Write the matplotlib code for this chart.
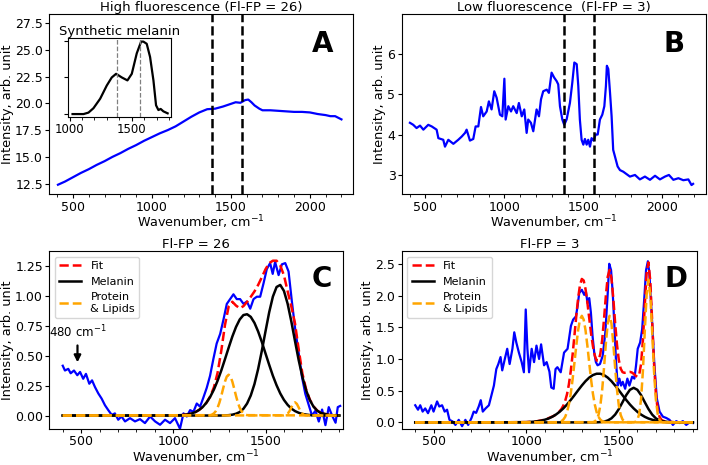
import numpy as np
import matplotlib.pyplot as plt
from matplotlib.ticker import MultipleLocator

# melanin band positions (dashed lines)
bands = [1380, 1570]

# A: high fluorescence raw spectrum
a_wn = [405, 450, 500, 550, 600, 650, 700, 750, 800, 850, 900, 950, 1000, 1050, 1100,
        1150, 1200, 1250, 1300, 1350, 1400, 1450, 1500, 1530, 1560, 1590, 1610, 1630,
        1650, 1680, 1700, 1750, 1800, 1850, 1900, 1950, 2000, 2050, 2100, 2130, 2160,
        2180, 2200]
a_int = [12.4, 12.7, 13.1, 13.5, 13.85, 14.25, 14.6, 15.0, 15.35, 15.75, 16.1, 16.5,
         16.85, 17.2, 17.5, 17.85, 18.3, 18.75, 19.15, 19.45, 19.5, 19.7, 19.95, 20.1,
         20.05, 20.3, 20.35, 20.1, 19.8, 19.5, 19.35, 19.35, 19.3, 19.25, 19.2, 19.2,
         19.15, 19.0, 18.9, 18.8, 18.8, 18.65, 18.5]

# inset: synthetic melanin
syn_wn = [1024, 1112, 1152, 1192, 1246, 1299, 1339, 1374, 1420, 1465, 1500, 1540,
          1575, 1593, 1620, 1647, 1674, 1695, 1714, 1732, 1754, 1788]
syn_int = [0.0, 0.0, 0.02, 0.08, 0.21, 0.39, 0.50, 0.55, 0.50, 0.46, 0.55, 0.83,
           0.99, 0.99, 0.96, 0.78, 0.46, 0.12, 0.055, 0.07, 0.037, 0.01]

# B: low fluorescence raw spectrum
b_wn = [402, 423, 444, 466, 487, 518, 540, 571, 582, 613, 624, 645, 677, 708, 730,
        751, 761, 782, 803, 818, 835, 852, 866, 888, 902, 919, 936, 951, 972, 987,
        1000, 1008, 1025, 1042, 1056, 1078, 1092, 1110, 1126, 1141, 1151, 1168, 1183,
        1204, 1219, 1232, 1246, 1268, 1282, 1299, 1315, 1331, 1341, 1352, 1367, 1379,
        1394, 1415, 1430, 1443, 1458, 1468, 1478, 1489, 1500, 1510, 1521, 1531, 1542,
        1552, 1565, 1578, 1591, 1605, 1620, 1633, 1643, 1649, 1658, 1669, 1679, 1689,
        1700, 1717, 1732, 1753, 1774, 1795, 1827, 1858, 1890, 1922, 1954, 1985, 2017,
        2042, 2070, 2102, 2133, 2165, 2185, 2195]
b_int = [4.29, 4.24, 4.16, 4.22, 4.12, 4.24, 4.2, 4.12, 3.91, 3.87, 3.7, 3.87, 3.77,
         3.87, 3.95, 4.04, 4.12, 3.85, 3.89, 4.2, 4.2, 4.68, 4.45, 4.57, 4.82, 4.62,
         5.07, 4.91, 4.49, 4.45, 5.38, 4.37, 4.70, 4.57, 4.70, 4.53, 4.78, 4.45, 4.62,
         4.04, 4.37, 4.29, 4.08, 4.62, 4.45, 4.87, 5.07, 5.11, 5.03, 5.53, 5.41, 5.32,
         5.24, 4.70, 4.37, 4.24, 4.37, 4.78, 5.28, 5.78, 5.74, 5.2, 4.37, 3.87, 3.75,
         3.89, 3.75, 3.87, 3.70, 3.91, 3.85, 4.0, 4.0, 4.37, 4.49, 4.70, 5.2, 5.7,
         5.62, 5.03, 4.45, 3.62, 3.46, 3.21, 3.12, 3.08, 3.02, 2.96, 3.0, 2.89, 2.96,
         2.88, 2.98, 2.89, 2.96, 3.0, 2.88, 2.92, 2.87, 2.89, 2.75, 2.78]

# C: baseline-corrected spectrum, Fl-FP = 26
c_wn = [400, 412, 430, 443, 461, 479, 494, 511, 526, 544, 559, 575, 593, 611, 629,
        647, 666, 683, 701, 719, 738, 765, 792, 819, 846, 874, 901, 928, 955, 982,
        1009, 1036, 1055, 1073, 1091, 1109, 1127, 1145, 1163, 1181, 1199, 1217, 1235,
        1254, 1272, 1290, 1308, 1326, 1344, 1362, 1381, 1399, 1417, 1435, 1453, 1471,
        1489, 1507, 1525, 1539, 1552, 1571, 1589, 1607, 1625, 1643, 1661, 1680, 1698,
        1716, 1734, 1752, 1771, 1789, 1807, 1825, 1843, 1861, 1880, 1892, 1905]
c_int = [0.415, 0.375, 0.389, 0.352, 0.375, 0.336, 0.363, 0.306, 0.347, 0.265, 0.293,
         0.237, 0.184, 0.141, 0.086, 0.045, 0.005, 0.018, -0.035, -0.008, -0.049,
         -0.022, -0.049, -0.03, -0.063, -0.008, -0.049, -0.077, -0.035, -0.063, -0.022,
         -0.11, 0.018, -0.008, 0.045, 0.031, 0.10, 0.074, 0.15, 0.23, 0.33, 0.47, 0.60,
         0.68, 0.80, 0.93, 0.97, 1.01, 0.97, 0.97, 0.93, 0.95, 0.89, 0.97, 0.99, 0.99,
         1.10, 1.22, 1.27, 1.18, 1.28, 1.17, 1.26, 1.27, 1.20, 0.95, 0.72, 0.52, 0.32,
         0.18, 0.09, 0.0, 0.04, -0.05, 0.05, -0.08, 0.07, 0.0, -0.06, 0.07, 0.08]

# D: baseline-corrected spectrum, Fl-FP = 3
d_wn = [400, 415, 427, 440, 454, 469, 487, 499, 518, 530, 545, 559, 572, 585, 602,
        617, 635, 653, 671, 686, 704, 716, 729, 743, 754, 765, 780, 798, 812, 825,
        838, 849, 861, 870, 884, 897, 910, 925, 935, 946, 960, 975, 987, 997, 1006,
        1015, 1029, 1042, 1055, 1069, 1080, 1096, 1110, 1125, 1135, 1148, 1158, 1168,
        1186, 1204, 1223, 1241, 1253, 1268, 1277, 1286, 1300, 1313, 1322, 1331, 1340,
        1349, 1358, 1367, 1376, 1385, 1398, 1413, 1427, 1440, 1448, 1458, 1467, 1476,
        1485, 1494, 1503, 1512, 1521, 1534, 1546, 1557, 1572, 1584, 1593, 1602, 1615,
        1626, 1638, 1647, 1657, 1665, 1680, 1692, 1705, 1720, 1738, 1756, 1774, 1792,
        1810, 1828, 1846, 1864, 1882, 1900]
d_int = [0.27, 0.20, 0.27, 0.17, 0.22, 0.145, 0.27, 0.17, 0.33, 0.25, 0.27, 0.17, 0.20,
         0.04, 0.015, -0.04, 0.04, -0.06, 0.04, -0.04, 0.07, 0.17, 0.15, 0.25, 0.35,
         0.17, 0.22, 0.27, 0.43, 0.58, 0.84, 0.92, 1.03, 0.82, 1.0, 1.16, 0.92, 1.16,
         1.42, 1.26, 1.10, 0.95, 0.79, 1.78, 1.16, 0.79, 1.16, 0.95, 1.21, 1.0, 1.23,
         0.90, 0.95, 0.80, 0.55, 0.53, 0.84, 0.87, 0.79, 1.10, 1.16, 1.52, 1.62, 1.67,
         1.83, 2.04, 2.09, 2.01, 2.06, 1.88, 1.96, 1.73, 1.36, 1.10, 0.95, 0.90, 0.92,
         1.05, 1.42, 2.04, 2.50, 2.40, 2.04, 1.52, 0.95, 0.58, 0.69, 0.58, 0.64, 0.53,
         0.69, 0.58, 0.72, 0.69, 0.90, 1.16, 1.26, 1.47, 1.98, 2.40, 2.54, 2.35, 1.57,
         0.90, 0.38, 0.17, 0.09, 0.07, 0.04, -0.04, 0.02, -0.01, 0.02, -0.04, 0.0, -0.01]

# fitted components
fit_wn = [400, 600, 800, 1000, 1020, 1040, 1060, 1080, 1100, 1120, 1140, 1160, 1180,
          1200, 1220, 1240, 1260, 1280, 1300, 1320, 1340, 1360, 1380, 1400, 1420, 1440,
          1460, 1480, 1500, 1520, 1540, 1560, 1580, 1600, 1620, 1640, 1660, 1680, 1700,
          1720, 1740, 1760, 1780, 1800, 1850, 1900]

c_mel1 = [0, 0, 0, 0.001, 0.002, 0.003, 0.006, 0.010, 0.018, 0.029, 0.047, 0.072, 0.108,
          0.156, 0.216, 0.290, 0.375, 0.469, 0.565, 0.658, 0.738, 0.800, 0.837, 0.844,
          0.822, 0.772, 0.700, 0.613, 0.517, 0.422, 0.331, 0.252, 0.184, 0.130, 0.089,
          0.058, 0.037, 0.023, 0.013, 0.008, 0.004, 0.002, 0.001, 0, 0, 0]
c_mel2 = [0, 0, 0, 0, 0, 0, 0, 0, 0, 0, 0, 0, 0, 0, 0, 0, 0, 0.001, 0.003, 0.007, 0.015,
          0.029, 0.056, 0.100, 0.167, 0.262, 0.388, 0.539, 0.702, 0.861, 0.991, 1.071,
          1.088, 1.038, 0.931, 0.784, 0.620, 0.461, 0.322, 0.211, 0.130, 0.075, 0.041,
          0.021, 0.003, 0]
c_fit = [0, 0, 0, 0.001, 0.002, 0.003, 0.006, 0.010, 0.018, 0.029, 0.047, 0.072, 0.108,
         0.159, 0.235, 0.356, 0.539, 0.754, 0.908, 0.948, 0.916, 0.894, 0.911, 0.947,
         0.989, 1.034, 1.088, 1.152, 1.219, 1.27, 1.29, 1.29, 1.25, 1.168, 1.035, 0.909,
         0.767, 0.551, 0.350, 0.220, 0.134, 0.077, 0.042, 0.021, 0.003, 0]
c_p1_wn = [400, 1200, 1210, 1220, 1230, 1240, 1250, 1260, 1270, 1280, 1290, 1300, 1310,
           1320, 1330, 1340, 1350, 1360, 1370, 1380, 1390, 1400, 1900]
c_p1 = [0, 0.003, 0.008, 0.018, 0.036, 0.065, 0.108, 0.163, 0.225, 0.283, 0.325, 0.34,
        0.325, 0.283, 0.225, 0.163, 0.108, 0.065, 0.036, 0.018, 0.008, 0.003, 0]
c_p2_wn = [400, 1600, 1610, 1620, 1630, 1640, 1650, 1660, 1670, 1680, 1690, 1700, 1710,
           1720, 1900]
c_p2 = [0, 0.001, 0.005, 0.015, 0.036, 0.067, 0.097, 0.11, 0.097, 0.067, 0.036, 0.015,
        0.005, 0.001, 0]

d_mel1 = [0, 0, 0, 0.004, 0.007, 0.011, 0.018, 0.027, 0.042, 0.061, 0.088, 0.123, 0.167,
          0.220, 0.282, 0.353, 0.428, 0.506, 0.581, 0.650, 0.706, 0.746, 0.767, 0.767,
          0.746, 0.706, 0.650, 0.581, 0.506, 0.428, 0.353, 0.282, 0.220, 0.167, 0.123,
          0.088, 0.061, 0.042, 0.027, 0.018, 0.011, 0.007, 0.004, 0.002, 0, 0]
d_mel2 = [0, 0, 0, 0, 0, 0, 0, 0, 0, 0, 0, 0, 0, 0, 0, 0, 0, 0, 0, 0, 0, 0, 0.001, 0.004,
          0.012, 0.030, 0.064, 0.123, 0.211, 0.319, 0.430, 0.514, 0.545, 0.514, 0.430,
          0.319, 0.211, 0.123, 0.064, 0.030, 0.012, 0.004, 0.001, 0, 0, 0]
d_p1_wn = [400, 1160, 1170, 1180, 1190, 1200, 1210, 1220, 1230, 1240, 1250, 1260, 1270,
           1280, 1290, 1300, 1310, 1320, 1330, 1340, 1350, 1360, 1370, 1380, 1390, 1400,
           1410, 1420, 1430, 1440, 1900]
d_p1 = [0, 0.001, 0.004, 0.009, 0.020, 0.044, 0.087, 0.162, 0.281, 0.451, 0.674, 0.937,
        1.209, 1.452, 1.620, 1.68, 1.620, 1.452, 1.209, 0.937, 0.674, 0.451, 0.281,
        0.162, 0.087, 0.044, 0.020, 0.009, 0.004, 0.001, 0]
d_p2_wn = [400, 1360, 1370, 1380, 1390, 1400, 1410, 1420, 1430, 1440, 1450, 1460, 1470,
           1480, 1490, 1500, 1510, 1520, 1530, 1540, 1900]
d_p2 = [0, 0.004, 0.015, 0.045, 0.117, 0.264, 0.515, 0.863, 1.249, 1.560, 1.68, 1.560,
        1.249, 0.863, 0.515, 0.264, 0.117, 0.045, 0.015, 0.004, 0]
d_p3_wn = [400, 1580, 1590, 1600, 1610, 1620, 1630, 1640, 1650, 1660, 1670, 1680, 1690,
           1700, 1710, 1720, 1730, 1740, 1900]
d_p3 = [0, 0.001, 0.008, 0.038, 0.132, 0.366, 0.811, 1.430, 2.009, 2.25, 2.009, 1.430,
        0.811, 0.366, 0.132, 0.038, 0.008, 0.001, 0]
d_fit_wn = [400, 800, 1000, 1050, 1100, 1150, 1160, 1170, 1180, 1190, 1200, 1210, 1220,
            1230, 1240, 1250, 1260, 1270, 1280, 1290, 1300, 1310, 1320, 1330, 1340, 1350,
            1360, 1370, 1380, 1390, 1400, 1410, 1420, 1430, 1440, 1450, 1460, 1470, 1480,
            1490, 1500, 1510, 1520, 1530, 1540, 1550, 1560, 1570, 1580, 1590, 1600, 1610,
            1620, 1630, 1640, 1650, 1660, 1670, 1680, 1690, 1700, 1710, 1720, 1730, 1740,
            1750, 1800, 1850, 1900]
d_fit = [0, 0, 0.004, 0.014, 0.042, 0.104, 0.124, 0.147, 0.176, 0.212, 0.264, 0.337,
         0.444, 0.598, 0.804, 1.064, 1.365, 1.676, 1.958, 2.164, 2.261, 2.237, 2.102,
         1.889, 1.643, 1.402, 1.201, 1.055, 0.975, 0.977, 1.079, 1.301, 1.630, 2.000,
         2.297, 2.404, 2.274, 1.956, 1.567, 1.222, 0.981, 0.847, 0.792, 0.781, 0.787,
         0.794, 0.796, 0.787, 0.766, 0.737, 0.719, 0.752, 0.919, 1.291, 1.837, 2.346,
         2.522, 2.223, 1.595, 0.935, 0.457, 0.198, 0.086, 0.041, 0.024, 0.016, 0.002, 0, 0]

plt.rcParams['font.size'] = 9

fig = plt.figure(figsize=(7.08, 4.65), dpi=100)
axA = fig.add_axes([0.0696, 0.582, 0.4294, 0.387])
axB = fig.add_axes([0.5674, 0.582, 0.4294, 0.387])
axC = fig.add_axes([0.0696, 0.078, 0.4153, 0.382])
axD = fig.add_axes([0.5674, 0.078, 0.4170, 0.382])

xlab = 'Wavenumber, cm$^{-1}$'
ylab = 'Intensity, arb. unit'

# --- A ---
axA.plot(a_wn, a_int, color='b', lw=1.6)
for b in bands:
    axA.axvline(b, color='k', ls='--', lw=1.8)
axA.set_xlim(350, 2275)
axA.set_ylim(11.5, 28.3)
axA.yaxis.set_major_locator(MultipleLocator(2.5))
axA.set_title('High fluorescence (Fl-FP = 26)', fontsize=9.5, pad=1.5)

# --- B ---
axB.plot(b_wn, b_int, color='b', lw=1.6)
for b in bands:
    axB.axvline(b, color='k', ls='--', lw=1.8)
axB.set_xlim(350, 2275)
axB.set_ylim(2.52, 6.97)
axB.yaxis.set_major_locator(MultipleLocator(1))
axB.set_title('Low fluorescence  (Fl-FP = 3)', fontsize=9.5, pad=1.5)

# --- C ---
axC.plot(c_wn, c_int, color='b', lw=1.6)
axC.plot(fit_wn, c_fit, color='r', ls='--', lw=1.8, label='Fit')
axC.plot(fit_wn, c_mel1, color='k', lw=1.8, label='Melanin')
axC.plot(fit_wn, c_mel2, color='k', lw=1.8)
axC.plot(c_p1_wn, c_p1, color='orange', ls='--', lw=1.8, label='Protein\n& Lipids')
axC.plot(c_p2_wn, c_p2, color='orange', ls='--', lw=1.8)
axC.set_xlim(327, 1922)
axC.set_ylim(-0.11, 1.37)
axC.yaxis.set_major_locator(MultipleLocator(0.25))
axC.set_title('Fl-FP = 26', fontsize=9.5, pad=1.5)
axC.annotate('480 cm$^{-1}$', xy=(480, 0.42), xytext=(480, 0.63), ha='center',
             va='bottom', fontsize=8.5,
             arrowprops=dict(arrowstyle='-|>', color='k', lw=1.6, mutation_scale=10))
axC.legend(loc='upper left', fontsize=8)

# --- D ---
axD.plot(d_wn, d_int, color='b', lw=1.6)
axD.plot(d_fit_wn, d_fit, color='r', ls='--', lw=1.8, label='Fit')
axD.plot(fit_wn, d_mel1, color='k', lw=1.8, label='Melanin')
axD.plot(fit_wn, d_mel2, color='k', lw=1.8)
axD.plot(d_p1_wn, d_p1, color='orange', ls='--', lw=1.8, label='Protein\n& Lipids')
axD.plot(d_p2_wn, d_p2, color='orange', ls='--', lw=1.8)
axD.plot(d_p3_wn, d_p3, color='orange', ls='--', lw=1.8)
axD.set_xlim(327, 1922)
axD.set_ylim(-0.1, 2.7)
axD.yaxis.set_major_locator(MultipleLocator(0.5))
axD.set_title('Fl-FP = 3', fontsize=9.5, pad=1.5)
axD.legend(loc='upper left', fontsize=8)

for ax, letter, lx, ly in [(axA, 'A', 0.935, 0.79), (axB, 'B', 0.93, 0.79),
                           (axC, 'C', 0.96, 0.80), (axD, 'D', 0.968, 0.80)]:
    ax.set_xlabel(xlab, fontsize=9.2, labelpad=0)
    ax.set_ylabel(ylab, fontsize=9.3, labelpad=1)
    ax.xaxis.set_major_locator(MultipleLocator(500))
    ax.xaxis.set_minor_locator(MultipleLocator(100))
    ax.tick_params(labelsize=9, length=3, pad=1.5)
    ax.tick_params(which='minor', length=2)
    ax.text(lx, ly, letter, transform=ax.transAxes, ha='right', va='baseline',
            fontsize=20, fontweight='bold')

# inset with synthetic melanin spectrum
axI = fig.add_axes([0.0965, 0.7484, 0.145, 0.170])
axI.plot(syn_wn, syn_int, color='k', lw=1.6)
for b in bands:
    axI.axvline(b, color='grey', ls='--', lw=0.9)
axI.set_xlim(990, 1815)
axI.set_ylim(-0.04, 1.04)
axI.xaxis.set_major_locator(MultipleLocator(500))
axI.xaxis.set_minor_locator(MultipleLocator(100))
axI.set_yticks([0.0, 0.5, 1.0])
axI.set_yticklabels([])
axI.tick_params(labelsize=8.5, length=3, pad=1.5)
axI.tick_params(which='minor', length=2)
axI.set_title('Synthetic melanin', fontsize=9.5, pad=1.5)

fig.savefig('out.png', dpi=100)
